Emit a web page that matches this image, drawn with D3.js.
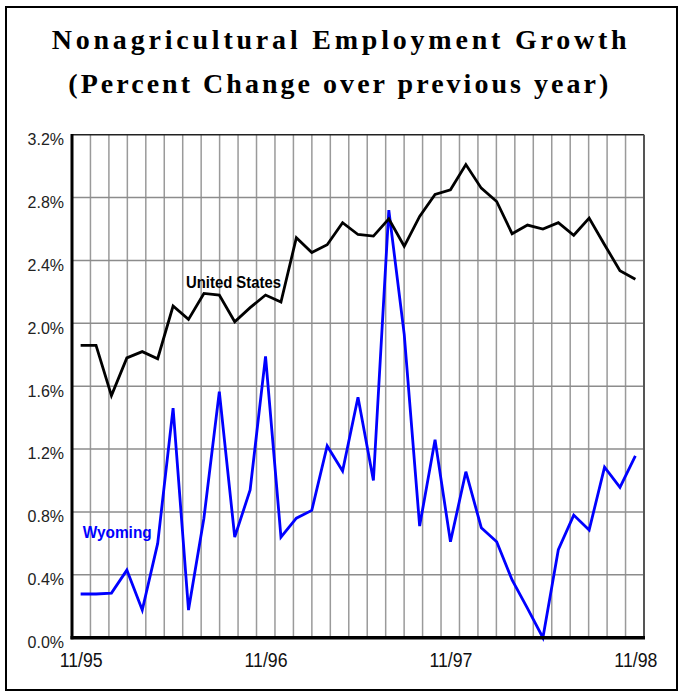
<!DOCTYPE html>
<html>
<head>
<meta charset="utf-8">
<script src="https://cdn.jsdelivr.net/npm/d3@7/dist/d3.min.js"></script>
<style>
  html, body { margin: 0; padding: 0; background: #fff; }
  svg { display: block; }
</style>
</head>
<body>
<svg id="chart" width="681" height="692"></svg>
<script>
// ---- Data ----
const months = [
  "11/95","12/95","1/96","2/96","3/96","4/96","5/96","6/96","7/96","8/96","9/96","10/96",
  "11/96","12/96","1/97","2/97","3/97","4/97","5/97","6/97","7/97","8/97","9/97","10/97",
  "11/97","12/97","1/98","2/98","3/98","4/98","5/98","6/98","7/98","8/98","9/98","10/98",
  "11/98"
];
const usValues = [
  1.86, 1.86, 1.54, 1.78, 1.82, 1.775, 2.11, 2.025, 2.19, 2.18, 2.01, 2.10,
  2.18, 2.135, 2.545, 2.45, 2.50, 2.64, 2.565, 2.555, 2.665, 2.49, 2.68, 2.82,
  2.85, 3.01, 2.86, 2.775, 2.57, 2.625, 2.60, 2.64, 2.56, 2.67, 2.50, 2.335,
  2.28
];
const wyValues = [
  0.278, 0.278, 0.284, 0.43, 0.176, 0.60, 1.46, 0.176, 0.76, 1.565, 0.64, 0.94,
  1.79, 0.64, 0.76, 0.81, 1.22, 1.06, 1.53, 1.00, 2.72, 1.93, 0.71, 1.26,
  0.61, 1.056, 0.70, 0.61, 0.367, 0.187, 0.0, 0.56, 0.78, 0.685, 1.085, 0.957,
  1.156
];
const yTickValues = [0, 0.4, 0.8, 1.2, 1.6, 2.0, 2.4, 2.8, 3.2];
const yTickLabels = ["0.0%","0.4%","0.8%","1.2%","1.6%","2.0%","2.4%","2.8%","3.2%"];
const xTickIndex = [0, 12, 24, 36];
const xTickLabels = ["11/95","11/96","11/97","11/98"];
const titleLines = ["Nonagricultural Employment Growth", "(Percent Change over previous year)"];
const seriesNames = ["United States", "Wyoming"];

// ---- Layout ----
const svg = d3.select("#chart");
const plot = { left: 72, right: 644, top: 134.7, bottom: 637.7 };
const nCols = 31;

const x = d3.scaleLinear().domain([-0.56, months.length - 1 + 0.56]).range([plot.left, plot.right]);
const y = d3.scaleLinear().domain([0, 3.2]).range([plot.bottom, plot.top]);
const gx = d3.scaleLinear().domain([0, nCols]).range([plot.left, plot.right]);

// outer frame
svg.append("rect")
  .attr("x", 6).attr("y", 7).attr("width", 671).attr("height", 683)
  .attr("fill", "none").attr("stroke", "#000").attr("stroke-width", 2);

// title
const titleSpec = [
  { x: 51.7, y: 49.3, w: 575 },
  { x: 68.3, y: 93.3, w: 540 }
];
titleLines.forEach((t, i) => {
  svg.append("text")
    .attr("x", titleSpec[i].x).attr("y", titleSpec[i].y)
    .attr("textLength", titleSpec[i].w).attr("lengthAdjust", "spacing")
    .attr("font-family", "'Liberation Serif', 'Times New Roman', serif")
    .attr("font-weight", "bold").attr("font-size", 28)
    .attr("fill", "#000")
    .text(t);
});

// vertical gridlines
svg.append("g").selectAll("line")
  .data(d3.range(1, nCols))
  .join("line")
  .attr("x1", d => gx(d)).attr("x2", d => gx(d))
  .attr("y1", plot.top).attr("y2", plot.bottom)
  .attr("stroke", "#9a9a9a").attr("stroke-width", 1.5);

// horizontal gridlines
svg.append("g").selectAll("line")
  .data(yTickValues.filter(v => v > 0 && v < 3.2))
  .join("line")
  .attr("x1", plot.left).attr("x2", plot.right)
  .attr("y1", d => y(d)).attr("y2", d => y(d))
  .attr("stroke", "#8c8c8c").attr("stroke-width", 1.5);

// top and right borders
svg.append("line")
  .attr("x1", plot.left).attr("x2", plot.right)
  .attr("y1", plot.top).attr("y2", plot.top)
  .attr("stroke", "#222").attr("stroke-width", 1.5);
svg.append("line")
  .attr("x1", plot.right).attr("x2", plot.right)
  .attr("y1", plot.top).attr("y2", plot.bottom)
  .attr("stroke", "#555").attr("stroke-width", 2);

// y axis
const yAxis = d3.axisLeft(y)
  .tickValues(yTickValues)
  .tickFormat((d, i) => yTickLabels[i])
  .tickSize(0).tickPadding(8);
const gy = svg.append("g").attr("transform", `translate(${plot.left},0)`).call(yAxis);
gy.select(".domain").remove();
gy.selectAll("text")
  .attr("font-family", "'Liberation Sans', Arial, sans-serif")
  .attr("font-size", 16).attr("fill", "#222")
  .attr("dy", "0.62em");

// x axis labels
const xAxis = d3.axisBottom(x)
  .tickValues(xTickIndex)
  .tickFormat((d, i) => xTickLabels[i])
  .tickSize(0).tickPadding(15);
const gxa = svg.append("g").attr("transform", `translate(0,${plot.bottom})`).call(xAxis);
gxa.select(".domain").remove();
gxa.selectAll("text")
  .attr("font-family", "'Liberation Sans Narrow', 'Arial Narrow', 'Liberation Sans', sans-serif")
  .attr("font-size", 20).attr("fill", "#111")
  .attr("textLength", 43).attr("lengthAdjust", "spacingAndGlyphs");

// series lines
const line = d3.line().x((d, i) => x(i)).y(d => y(d));
svg.append("path").datum(wyValues)
  .attr("d", line).attr("fill", "none")
  .attr("stroke", "#0000ff").attr("stroke-width", 2.8).attr("stroke-linejoin", "miter");
svg.append("path").datum(usValues)
  .attr("d", line).attr("fill", "none")
  .attr("stroke", "#000").attr("stroke-width", 2.8).attr("stroke-linejoin", "miter");

// left and bottom axes (thick)
svg.append("line")
  .attr("x1", plot.left).attr("x2", plot.left)
  .attr("y1", plot.top - 0.75).attr("y2", plot.bottom + 1.5)
  .attr("stroke", "#000").attr("stroke-width", 3);
svg.append("line")
  .attr("x1", plot.left - 1.5).attr("x2", plot.right + 1)
  .attr("y1", plot.bottom).attr("y2", plot.bottom)
  .attr("stroke", "#000").attr("stroke-width", 3.5);

// series labels
svg.append("text")
  .attr("x", 186).attr("y", 287.5)
  .attr("textLength", 95).attr("lengthAdjust", "spacingAndGlyphs")
  .attr("font-family", "'Liberation Sans', Arial, sans-serif")
  .attr("font-weight", "bold").attr("font-size", 16).attr("fill", "#000")
  .text(seriesNames[0]);
svg.append("text")
  .attr("x", 82.7).attr("y", 538)
  .attr("textLength", 69).attr("lengthAdjust", "spacingAndGlyphs")
  .attr("font-family", "'Liberation Sans', Arial, sans-serif")
  .attr("font-weight", "bold").attr("font-size", 16).attr("fill", "#0000ff")
  .text(seriesNames[1]);
</script>
</body>
</html>
